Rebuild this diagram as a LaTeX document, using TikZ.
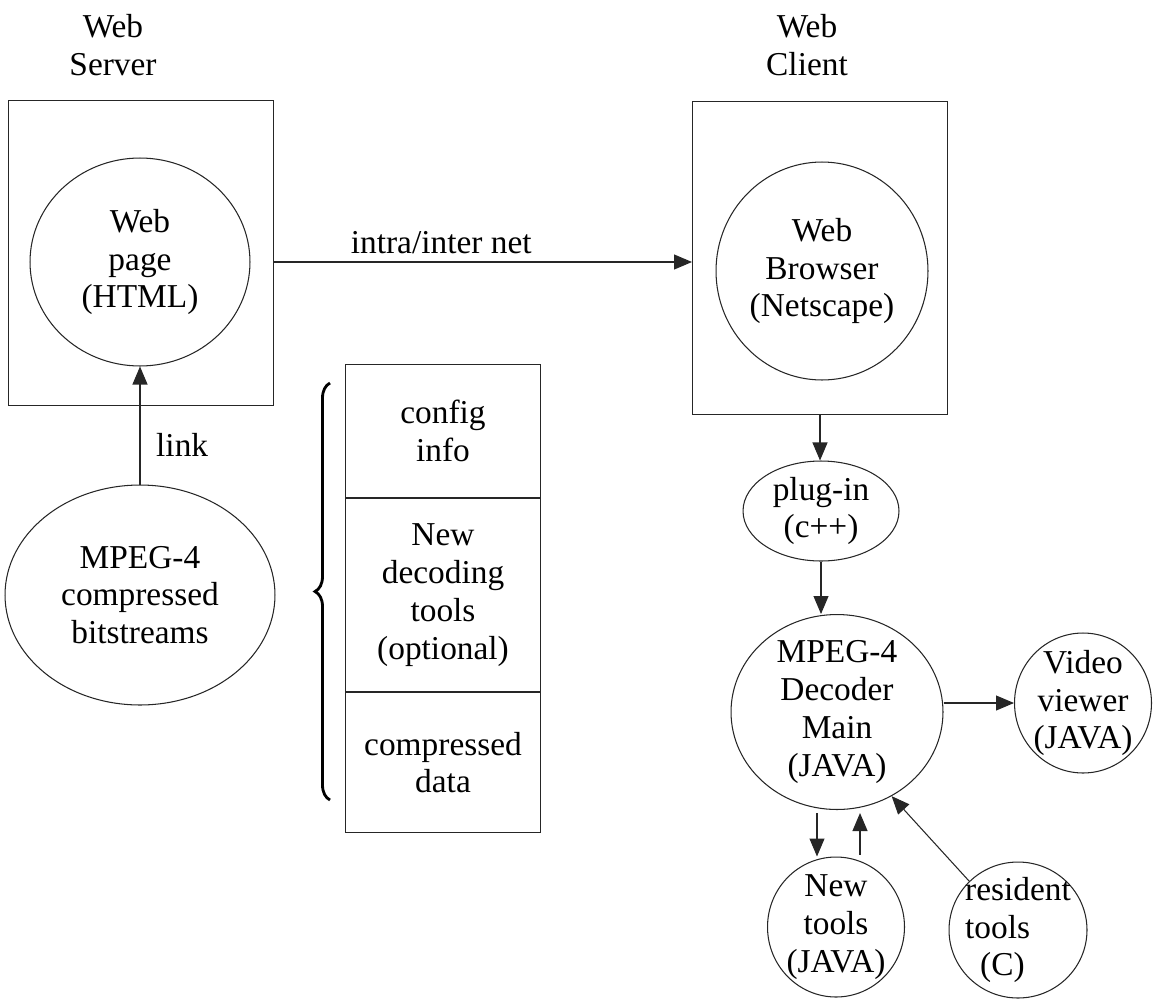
\documentclass[tikz,border=0pt]{standalone}
\usepackage{fontspec}
\setmainfont{Liberation Serif}
\usetikzlibrary{positioning,shapes.geometric,arrows.meta,decorations.pathreplacing,calc}

\tikzset{
	schrift/.style={font=\fontsize{19}{21.5}\selectfont},
	kreis/.style={ellipse, draw=black!85, line width=0.6pt, inner sep=-0.3cm, align=center},
	kasten/.style={rectangle, draw=black!85, line width=0.6pt, inner sep=0pt, align=center},
	pfeil/.style={draw=black!85, line width=0.6pt, -{Triangle[length=3.6mm,width=3mm]}}
}

\begin{document}
\begin{tikzpicture}[x=0.02cm,y=-0.02cm,every node/.style={schrift}]
		\useasboundingbox (0,0) rectangle (1155,1001);
		% Server mit Webseite
		\node[align=center] (srvtitel) at (113,45) {Web\\Server};
		\node[kasten, minimum width=5.3cm, minimum height=6.1cm, anchor=north west] (srv) at (8,100) {};
		\node[kreis, minimum width=4.4cm, minimum height=4.16cm] (seite) at (140,262) {Web\\page\\(HTML)};
		% Bitstroeme mit Link zur Webseite
		\node[kreis, minimum width=5.4cm, minimum height=4.4cm] (mpeg) at (140,595) {MPEG-4\\compressed\\bitstreams};
		\draw[pfeil] (mpeg.north) -- (seite.south);
		\node[anchor=west] (link) at (150,445) {link};
		% Aufbau des Bitstroms
		\node[kasten, minimum width=3.9cm, minimum height=2.66cm, anchor=north west] (cfg) at (345,364) {config\\info};
		\node[kasten, minimum width=3.9cm, minimum height=3.86cm, below=0pt of cfg] (dectools) {New\\decoding\\tools\\(optional)};
		\node[kasten, minimum width=3.9cm, minimum height=2.8cm, below=0pt of dectools] (cdata) {compressed\\data};
		\draw[decorate, decoration={brace, amplitude=0.3cm}, line width=1.6pt] (330,800) -- (330,383);
		% Client mit Browser
		\node[align=center] (clititel) at (807,45) {Web\\Client};
		\node[kasten, minimum width=5.1cm, minimum height=6.26cm, anchor=north west] (cli) at (692,101) {};
		\node[kreis, minimum width=4.24cm, minimum height=4.36cm] (browser) at (822,271) {Web\\Browser\\(Netscape)};
		\draw[pfeil] (seite -| srv.east) -- node[pos=0.4, above=1pt] (netz) {intra/inter net} (seite -| cli.west);
		% Plug-in und Decoder
		\node[kreis, minimum width=3.12cm, minimum height=2cm] (plugin) at (821,511) {plug-in\\(c++)};
		\node[kreis, minimum width=4.24cm, minimum height=3.9cm] (decoder) at (837,712) {MPEG-4\\Decoder\\Main\\(JAVA)};
		\draw[pfeil] (cli.south) -- (cli.south |- plugin.north);
		\draw[pfeil] (plugin.south) -- (plugin.south |- decoder.north);
		% Werkzeuge rund um den Decoder
		\node[kreis, minimum width=2.74cm, minimum height=2.8cm] (video) at (1083,703) {Video\\viewer\\(JAVA)};
		\node[kreis, minimum width=2.74cm, minimum height=2.8cm] (neutools) at (836,927) {New\\tools\\(JAVA)};
		\node[kreis, minimum width=2.76cm, minimum height=2.72cm, align=left] (resident) at (1018,930) {resident\\tools\\\hspace{0.3cm}(C)};
		\draw[pfeil] (decoder.east |- video.west) -- (video.west);
		\draw[pfeil] ($(decoder.south)+(-20,3)$) -- ($(neutools.north)+(-19,0)$);
		\draw[pfeil] ($(neutools.north)+(24,-2)$) -- ($(decoder.south)+(23,3)$);
		\draw[pfeil] (resident.135) -- (decoder.-57);
	\end{tikzpicture}
\end{document}
